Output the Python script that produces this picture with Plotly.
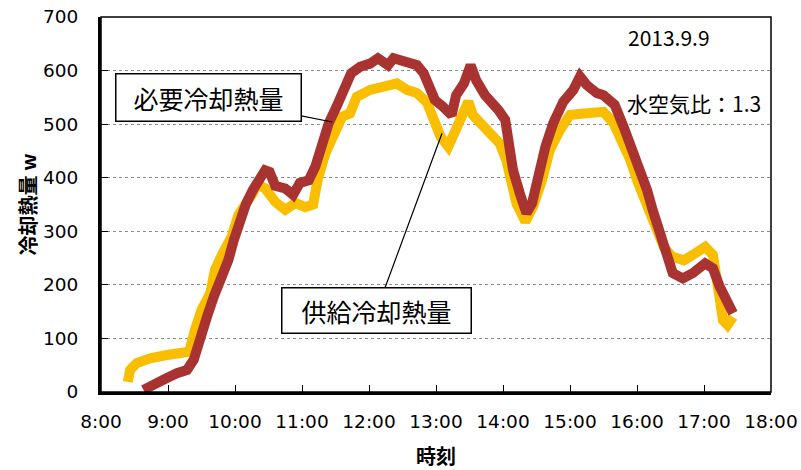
import plotly.graph_objects as go

# 供給冷却熱量 (supply cooling load), W
supply_time = ["8:24", "8:26", "8:32", "8:44", "8:59", "9:13", "9:19", "9:24", "9:30", "9:38",
               "9:42", "9:49", "9:57", "10:03", "10:10", "10:16", "10:20", "10:27", "10:36", "10:45",
               "10:54", "11:03", "11:10", "11:14", "11:21", "11:27", "11:36", "11:43", "11:49", "12:01",
               "12:13", "12:25", "12:34", "12:43", "12:52", "12:58", "13:04", "13:11", "13:15", "13:22",
               "13:29", "13:33", "13:39", "13:48", "13:57", "14:03", "14:06", "14:12", "14:20", "14:27",
               "14:35", "14:42", "14:51", "15:00", "15:12", "15:24", "15:30", "15:39", "15:46", "15:54",
               "16:01", "16:09", "16:16", "16:24", "16:31", "16:42", "16:50", "17:01", "17:08", "17:13",
               "17:17", "17:21", "17:26"]
supply_load = [19, 41, 54, 63, 69, 72, 75, 115, 153, 185,
               228, 259, 290, 330, 349, 371, 388, 380, 355, 340,
               353, 345, 350, 396, 446, 477, 514, 520, 551, 564,
               570, 576, 564, 558, 540, 508, 477, 458, 477, 502,
               542, 517, 502, 483, 464, 433, 408, 352, 318, 346,
               396, 452, 489, 517, 520, 520, 523, 502, 470, 433,
               390, 346, 309, 271, 253, 246, 256, 271, 256, 190,
               134, 125, 140]

# 必要冷却熱量 (required cooling load), W
required_time = ["8:38", "8:48", "8:59", "9:08", "9:17", "9:23", "9:29", "9:35", "9:41", "9:48",
                 "9:54", "9:59", "10:04", "10:10", "10:16", "10:22", "10:27", "10:31", "10:36", "10:45",
                 "10:52", "10:58", "11:06", "11:12", "11:18", "11:24", "11:31", "11:37", "11:44", "11:52",
                 "12:01", "12:08", "12:17", "12:22", "12:31", "12:43", "12:49", "12:55", "12:59", "13:06",
                 "13:14", "13:18", "13:25", "13:31", "13:36", "13:44", "13:50", "13:56", "14:02", "14:05",
                 "14:09", "14:15", "14:21", "14:26", "14:32", "14:38", "14:45", "14:54", "15:03", "15:09",
                 "15:15", "15:24", "15:30", "15:40", "15:48", "15:55", "16:03", "16:09", "16:14", "16:20",
                 "16:26", "16:32", "16:41", "16:50", "17:01", "17:08", "17:14", "17:20", "17:26"]
required_load = [4, 17, 26, 35, 41, 60, 94, 141, 178, 209,
                 246, 284, 321, 352, 377, 402, 414, 411, 385, 380,
                 368, 390, 395, 421, 470, 502, 533, 561, 595, 607,
                 613, 623, 610, 623, 617, 610, 595, 570, 545, 533,
                 517, 554, 576, 610, 582, 554, 542, 526, 508, 470,
                 414, 371, 334, 352, 408, 458, 502, 542, 564, 589,
                 573, 558, 554, 536, 495, 458, 421, 377, 340, 302,
                 253, 222, 212, 222, 240, 231, 197, 172, 147]

hour_ticks = list(range(8, 19))
hour_labels = [f"{h}:00" for h in hour_ticks]


def to_hours(t):
    h, m = t.split(":")
    return int(h) + int(m) / 60.0


JP = "Noto Sans CJK JP"
NUM = "DejaVu Sans"

fig = go.Figure()
fig.add_trace(go.Scatter(
    x=[to_hours(t) for t in supply_time], y=supply_load, mode="lines",
    line=dict(color="#F9BE00", width=10), name="供給冷却熱量", showlegend=False))
fig.add_trace(go.Scatter(
    x=[to_hours(t) for t in required_time], y=required_load, mode="lines",
    line=dict(color="#A83331", width=10), name="必要冷却熱量", showlegend=False))

# thin frame around the plot area
fig.add_shape(type="rect", xref="paper", yref="paper", x0=0, y0=0, x1=1, y1=1,
              line=dict(color="black", width=1.5), layer="above")

label_font = dict(family=JP, size=25, color="black")
fig.add_annotation(x=11.45, y=504, ax=-123.5, ay=-24.5, text="必要冷却熱量",
                   showarrow=True, arrowhead=0, arrowwidth=1.2, arrowcolor="black",
                   font=label_font, bgcolor="white", bordercolor="black", borderwidth=1.5,
                   borderpad=3, width=178, height=40)
fig.add_annotation(x=13.09, y=483, ax=-65.5, ay=177.5, text="供給冷却熱量",
                   showarrow=True, arrowhead=0, arrowwidth=1.2, arrowcolor="black",
                   font=label_font, bgcolor="white", bordercolor="black", borderwidth=1.5,
                   borderpad=3, width=182, height=38)
fig.add_annotation(x=16.48, y=663, text="2013.9.9", showarrow=False,
                   font=dict(family=JP, size=21, color="black"))
fig.add_annotation(x=16.85, y=540, text="水空気比：1.3", showarrow=False,
                   font=dict(family=JP, size=21, color="black"))

fig.update_xaxes(range=[8, 18], tickvals=hour_ticks, ticktext=hour_labels,
                 showgrid=False, zeroline=False, showline=True, linecolor="black", linewidth=3,
                 ticks="inside", ticklen=7, tickwidth=1.2, tickcolor="black",
                 ticklabelstandoff=11,
                 tickfont=dict(family=NUM, size=18.5, color="black"),
                 title=dict(text="<b>時刻</b>", font=dict(family=JP, size=20, color="black"),
                            standoff=19))
fig.update_yaxes(range=[0, 700], dtick=100, tick0=0,
                 showgrid=True, gridcolor="#8c8c8c", gridwidth=1.3, griddash="dot",
                 zeroline=False, showline=True, linecolor="black", linewidth=3,
                 ticks="inside", ticklen=7, tickwidth=1.2, tickcolor="black",
                 ticklabelstandoff=16,
                 tickfont=dict(family=NUM, size=18.5, color="black"),
                 title=dict(text="<b>冷却熱量 w</b>", font=dict(family=JP, size=20, color="black"),
                            standoff=1))

fig.update_layout(width=801, height=470, margin=dict(l=101, r=30, t=17, b=78, autoexpand=False),
                  plot_bgcolor="white", paper_bgcolor="white")

fig.write_html("out.html")
